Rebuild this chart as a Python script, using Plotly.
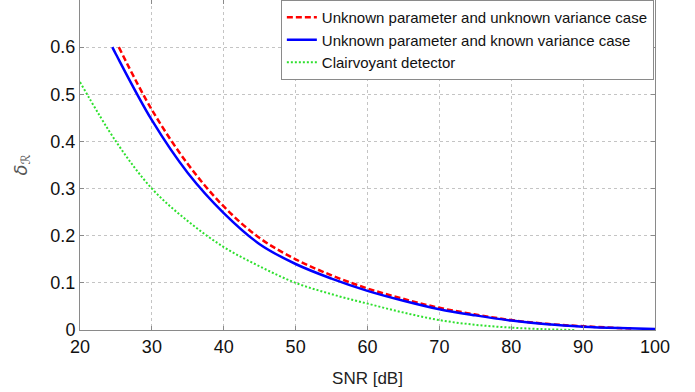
import plotly.graph_objects as go

# SNR [dB] values and curves
snr_unk_var = [25.4, 30, 35, 40, 45, 50, 55, 60, 65, 70, 75, 80, 85, 90, 96.7]
delta_unk_var = [0.600, 0.467, 0.352, 0.262, 0.195, 0.150, 0.116, 0.088, 0.066, 0.047, 0.033, 0.021, 0.013, 0.008, 0.003]

snr_known_var = [24.5, 25, 30, 35, 40, 45, 50, 55, 60, 65, 70, 75, 80, 85, 90, 95, 100]
delta_known_var = [0.600, 0.585, 0.445, 0.333, 0.248, 0.182, 0.140, 0.109, 0.083, 0.062, 0.044, 0.031, 0.020, 0.012, 0.007, 0.004, 0.002]

snr_clair = [20, 25, 30, 35, 40, 45, 50, 55, 60, 65, 70, 75, 80, 85, 89]
delta_clair = [0.526, 0.400, 0.300, 0.231, 0.176, 0.135, 0.100, 0.076, 0.056, 0.037, 0.021, 0.011, 0.005, 0.0015, 0.0]

names = ["Unknown parameter and unknown variance case",
         "Unknown parameter and known variance case",
         "Clairvoyant detector"]

x_ticks = [20, 30, 40, 50, 60, 70, 80, 90, 100]
y_ticks = [0, 0.1, 0.2, 0.3, 0.4, 0.5, 0.6]
y_tick_text = ["0", "0.1", "0.2", "0.3", "0.4", "0.5", "0.6"]

FONT = "Liberation Sans, Arial, sans-serif"

fig = go.Figure()
fig.add_trace(go.Scatter(x=snr_unk_var, y=delta_unk_var, mode="lines", name=names[0],
                         line=dict(color="#ff0000", width=2.5, dash="6px,3px", shape="spline")))
fig.add_trace(go.Scatter(x=snr_known_var, y=delta_known_var, mode="lines", name=names[1],
                         line=dict(color="#0000ff", width=2.5, shape="spline")))
fig.add_trace(go.Scatter(x=snr_clair, y=delta_clair, mode="lines", name=names[2],
                         line=dict(color="#2ee02e", width=2, dash="2px,2px", shape="spline")))

axis_common = dict(showgrid=True, gridcolor="#c4c4c4", griddash="dot", gridwidth=1,
                   showline=True, linecolor="#8a8a8a", linewidth=1, mirror="ticks",
                   ticks="inside", ticklen=4, tickcolor="#8a8a8a", zeroline=False,
                   tickfont=dict(family=FONT, size=18, color="#111111"))

fig.update_xaxes(range=[20, 100], tickvals=x_ticks, ticktext=[str(v) for v in x_ticks],
                 title=dict(text="SNR [dB]", font=dict(family=FONT, size=17, color="#222222"), standoff=16),
                 **axis_common)
fig.update_yaxes(range=[0, 0.7], tickvals=y_ticks, ticktext=y_tick_text,
                 title=dict(text="<i>δ</i><sub>ℛ</sub>",
                            font=dict(family="DejaVu Sans, sans-serif", size=18, color="#555555"), standoff=18),
                 **axis_common)

fig.update_layout(
    width=695, height=392,
    margin=dict(l=80, r=40, t=0, b=62),
    plot_bgcolor="white", paper_bgcolor="white",
    legend=dict(x=0.998, y=1.0, xanchor="right", yanchor="top",
                bgcolor="white", bordercolor="#8a8a8a", borderwidth=1,
                font=dict(family=FONT, size=15, color="#111111"),
                tracegroupgap=0, itemwidth=30),
    showlegend=True,
)

fig.write_html("out.html")
